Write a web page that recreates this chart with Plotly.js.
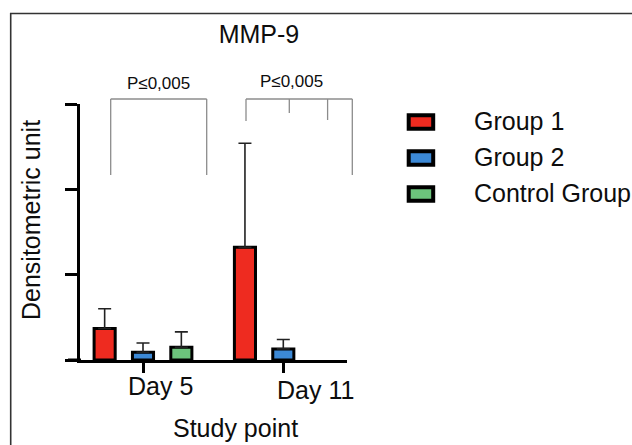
<!DOCTYPE html>
<html><head><meta charset="utf-8">
<script src="https://cdn.plot.ly/plotly-3.0.1.min.js"></script>
<style>html,body{margin:0;padding:0;background:#fff;}</style>
</head><body><div id="chart" style="width:632px;height:445px;"></div>
<script>
// ---- data ----
const categories = ['Day 5', 'Day 11'];
const seriesNames = ['Group 1', 'Group 2', 'Control Group'];
const group1 = [0.37, 1.32];
const group2 = [0.09, 0.13];
const control = [0.15, null];
const group1Err = [0.23, 1.22];
const group2Err = [0.11, 0.11];
const controlErr = [0.18, null];
const sigLabels = ['P≤0,005', 'P≤0,005'];
const yTickVals = [0, 1, 2, 3];
const chartTitle = 'MMP-9';
const xTitle = 'Study point';
const yTitle = 'Densitometric unit';

// ---- styling ----
const colors = ['#EE2B20', '#3C89D6', '#6CC47C'];
const FONT = 'Liberation Sans, Arial, sans-serif';
const TXT = '#0d0d0d';
const W = 632, H = 445;
const L = 80, R = 347, T = 104, B = 360;   // plot area in pixels
const px = x => (x - L) / (R - L);
const py = y => (B - y) / (B - T);

const values = [group1, group2, control];
const errs = [group1Err, group2Err, controlErr];
const traces = values.map((v, i) => ({
  type: 'bar', x: categories, y: v, name: seriesNames[i],
  marker: {color: colors[i], line: {color: '#000', width: 3}},
  error_y: {type: 'data', array: errs[i], arrayminus: errs[i].map(() => 0),
            symmetric: false, color: '#222', thickness: 1.6, width: 6.5},
  showlegend: false, hoverinfo: 'none'
}));

const gray = {color: '#8c8c8c', width: 1.3};
const line = (x0, y0, x1, y1, ln) => ({type: 'line', xref: 'paper', yref: 'paper',
  x0: px(x0), y0: py(y0), x1: px(x1), y1: py(y1), line: ln});

const shapes = [
  // frame
  {type: 'rect', xref: 'paper', yref: 'paper', x0: px(10.7), x1: px(700), y0: py(500), y1: py(13.5),
   line: {color: '#333', width: 1.6}, fillcolor: 'rgba(0,0,0,0)', layer: 'below'},
  // x axis extension to the left of the y axis
  line(68, 360, 81, 360, {color: '#000', width: 3}),
  // bracket Day 5
  line(110.7, 99, 206.7, 99, gray),
  line(110.7, 99, 110.7, 175, gray),
  line(206.7, 99, 206.7, 175, gray),
  // bracket Day 11
  line(246, 99, 352.3, 99, gray),
  line(246, 99, 246, 121, gray),
  line(289.3, 99, 289.3, 113, gray),
  line(327.6, 99, 327.6, 120, gray),
  line(352.3, 99, 352.3, 175, gray),
];

const ann = [];
const t = (text, x, y, size, extra) => Object.assign({text, xref: 'paper', yref: 'paper',
  x: px(x), y: py(y), showarrow: false, xanchor: 'center', yanchor: 'middle',
  font: {family: FONT, size, color: TXT}}, extra || {});

// significance labels
ann.push(t(sigLabels[0], 158.7, 83, 17));
ann.push(t(sigLabels[1], 291.3, 81.5, 17));
// tick labels (shifted right as in the original)
const tickShift = [17, 32], tickDown = [386, 390];
categories.forEach((c, i) => ann.push({text: c, xref: 'x', x: c, yref: 'paper', y: py(tickDown[i]),
  xshift: tickShift[i], showarrow: false, xanchor: 'center', yanchor: 'middle',
  font: {family: FONT, size: 25, color: TXT}}));
// axis titles
ann.push(t(xTitle, 235.7, 428, 25));
ann.push(t(yTitle, 31, 220, 25, {textangle: -90}));

// legend (custom)
const legY = [122, 158, 194];
seriesNames.forEach((n, i) => {
  shapes.push({type: 'rect', xref: 'paper', yref: 'paper',
    x0: px(408.7), x1: px(433.2), y0: py(legY[i] + 6.8), y1: py(legY[i] - 6.8),
    fillcolor: colors[i], line: {color: '#000', width: 4}});
  ann.push(t(n, 471.5, legY[i] - 1.5, 25, {xanchor: 'left'}));
});

const layout = {
  width: W, height: H,
  margin: {l: L, r: W - R, t: T, b: H - B, pad: 0},
  paper_bgcolor: '#fff', plot_bgcolor: 'rgba(0,0,0,0)',
  barmode: 'group', bargap: 0.18, bargroupgap: 0.45,
  showlegend: false,
  title: {text: chartTitle, font: {family: FONT, size: 25, color: TXT},
          xref: 'paper', x: px(259), xanchor: 'center',
          yref: 'container', y: 1 - 34 / H, yanchor: 'middle'},
  xaxis: {type: 'category', range: [-0.449, 1.454], showline: true, linewidth: 3, linecolor: '#000',
          ticks: 'outside', ticklen: 10, tickwidth: 3, tickcolor: '#000',
          showticklabels: false, showgrid: false, zeroline: false, fixedrange: true},
  yaxis: {range: [0, 3], tickvals: yTickVals, showline: true, linewidth: 3, linecolor: '#000',
          ticks: 'outside', ticklen: 12, tickwidth: 3, tickcolor: '#000',
          showticklabels: false, showgrid: false, zeroline: false, fixedrange: true},
  shapes, annotations: ann
};

Plotly.newPlot('chart', traces, layout, {displayModeBar: false, staticPlot: true});
</script></body></html>
